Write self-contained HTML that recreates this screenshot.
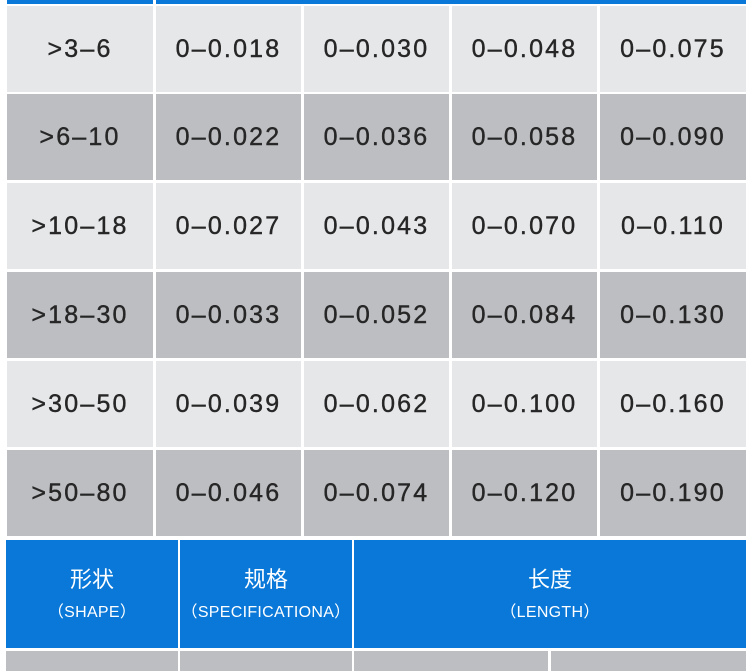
<!DOCTYPE html>
<html><head><meta charset="utf-8"><style>
body{margin:0;width:750px;height:671px;overflow:hidden;background:#fff;position:relative;font-family:"Liberation Sans","Noto Sans CJK SC",sans-serif}
.c{position:absolute;display:flex;align-items:center;justify-content:center;font-size:25px;color:#262626;letter-spacing:2.2px;-webkit-text-stroke:0.4px #262626}
.l{background:#e6e7e9}.d{background:#bdbec2}
.b{position:absolute;background:#0a78d8;color:#fff;display:flex;flex-direction:column;align-items:center;justify-content:center;text-align:center}
.b .t{font-size:22px;line-height:28px}.b .s{font-size:16px;margin-top:4px;letter-spacing:0.3px}
</style></head><body>
<div style="position:absolute;left:7px;top:0;width:146px;height:4px;background:#0a78d8"></div>
<div style="position:absolute;left:156px;top:0;width:590px;height:4px;background:#0a78d8"></div>
<div id="g"></div>
<script>
var rows=[[">3\u20136","0\u20130.018","0\u20130.030","0\u20130.048","0\u20130.075"],
[">6\u201310","0\u20130.022","0\u20130.036","0\u20130.058","0\u20130.090"],
[">10\u201318","0\u20130.027","0\u20130.043","0\u20130.070","0\u20130.110"],
[">18\u201330","0\u20130.033","0\u20130.052","0\u20130.084","0\u20130.130"],
[">30\u201350","0\u20130.039","0\u20130.062","0\u20130.100","0\u20130.160"],
[">50\u201380","0\u20130.046","0\u20130.074","0\u20130.120","0\u20130.190"]];
var xs=[[7,146],[156,145],[304,145],[452,145],[600,146]];
var ys=[6,94,183,272,361,450];
var h="";
rows.forEach(function(r,i){r.forEach(function(t,j){
h+='<div class="c '+(i%2?'d':'l')+'" style="left:'+xs[j][0]+'px;top:'+ys[i]+'px;width:'+xs[j][1]+'px;height:86px">'+t+'</div>';});});
document.getElementById('g').innerHTML=h;
</script>
<div class="b" style="left:6px;top:540px;width:172px;height:108px"><div class="t">形状</div><div class="s">（SHAPE）</div></div>
<div class="b" style="left:180px;top:540px;width:172px;height:108px"><div class="t">规格</div><div class="s">（SPECIFICATIONA）</div></div>
<div class="b" style="left:354px;top:540px;width:392px;height:108px"><div class="t">长度</div><div class="s">（LENGTH）</div></div>
<div class="d" style="position:absolute;left:6px;top:651px;width:172px;height:20px"></div>
<div class="d" style="position:absolute;left:180px;top:651px;width:172px;height:20px"></div>
<div class="d" style="position:absolute;left:354px;top:651px;width:194px;height:20px"></div>
<div class="d" style="position:absolute;left:551px;top:651px;width:195px;height:20px"></div>
</body></html>
